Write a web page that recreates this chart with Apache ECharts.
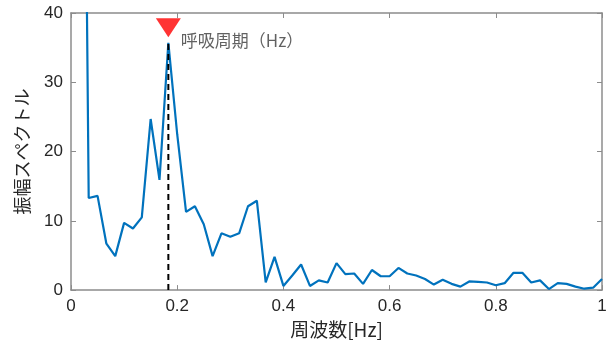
<!DOCTYPE html>
<html>
<head>
<meta charset="utf-8">
<script src="https://cdn.jsdelivr.net/npm/echarts@6/dist/echarts.min.js"></script>
<style>
  html, body { margin: 0; padding: 0; background: #fff; }
  #chart { width: 611px; height: 344px; }
</style>
</head>
<body>
<div id="chart"></div>
<script>
// Amplitude spectrum, bins spaced 1/60 Hz (60 s window)
const FREQ_STEP = 1 / 60;
const amplitude = [
  400, 150, 13.3, 13.6, 6.7, 4.9, 9.7, 8.9, 10.5, 24.7,
  15.9, 35.7, 22.5, 11.3, 12.1, 9.5, 4.9, 8.2, 7.7, 8.2,
  12.1, 12.9, 1.1, 4.8, 0.6, 2.1, 3.7, 0.6, 1.4, 1.1,
  3.9, 2.3, 2.4, 0.9, 2.9, 2.0, 2.0, 3.2, 2.4, 2.1,
  1.6, 0.8, 1.5, 0.9, 0.5, 1.25, 1.2, 1.1, 0.7, 1.0,
  2.5, 2.5, 1.1, 1.4, 0.15, 1.0, 0.9, 0.5, 0.2, 0.35,
  1.6
];
const freqs = amplitude.map((_, i) => i * FREQ_STEP);

// Respiratory peak bin
const breathPeakIndex = 11;
const peakLabel = '呼吸周期（Hz）';

const xTicks = ['0', '0.2', '0.4', '0.6', '0.8', '1'];
const yTicks = ['0', '10', '20', '30', '40'];
const xTitle = '周波数[Hz]';
const yTitle = '振幅スペクトル';

const spectrum = freqs.map((f, i) => [f, amplitude[i]]);
const peakPoint = [freqs[breathPeakIndex], amplitude[breathPeakIndex]];

const boxColor = '#8c8c8c';
const textColor = '#262626';
const latin = '"Liberation Sans", Arial, sans-serif';
const cjk = '"Noto Sans CJK JP", "Liberation Sans", sans-serif';

function axisCommon(extra) {
  return Object.assign({
    type: 'value',
    splitLine: { show: false },
    axisLine: { show: true, onZero: false, lineStyle: { color: boxColor, width: 1.5 } },
    axisTick: { show: true, inside: true, length: 5, lineStyle: { color: boxColor, width: 1 } },
  }, extra);
}

const chart = echarts.init(document.getElementById('chart'), null, { renderer: 'canvas' });
chart.setOption({
  animation: false,
  backgroundColor: '#fff',
  grid: { left: 71, right: 9, top: 13, bottom: 53, containLabel: false },
  xAxis: [
    axisCommon({
      min: 0, max: 1, interval: 0.2, position: 'bottom',
      axisLabel: {
        color: textColor, fontSize: 17, fontFamily: latin, margin: 8,
        formatter: (v) => xTicks[Math.round(v / 0.2)]
      },
      name: xTitle, nameLocation: 'middle', nameGap: 26,
      nameTextStyle: { color: textColor, fontSize: 19, fontFamily: cjk }
    }),
    axisCommon({
      min: 0, max: 1, interval: 0.2, position: 'top',
      axisLabel: { show: false }
    })
  ],
  yAxis: [
    axisCommon({
      min: 0, max: 40, interval: 10, position: 'left',
      axisLabel: {
        color: textColor, fontSize: 17, fontFamily: latin, margin: 8,
        formatter: (v) => yTicks[Math.round(v / 10)]
      },
      name: yTitle, nameLocation: 'middle', nameGap: 40,
      nameTextStyle: { color: textColor, fontSize: 18, fontFamily: cjk }
    }),
    axisCommon({
      min: 0, max: 40, interval: 10, position: 'right',
      axisLabel: { show: false }
    })
  ],
  series: [
    {
      type: 'line',
      data: spectrum,
      showSymbol: false,
      clip: true,
      lineStyle: { color: '#0072BD', width: 2.2 },
      z: 3
    },
    {
      // dashed drop line from the respiratory peak to the axis
      type: 'line',
      data: [[peakPoint[0], 0], peakPoint],
      showSymbol: false,
      lineStyle: { color: '#000', width: 2, type: [6, 4] },
      z: 4
    },
    {
      // red marker above the peak with its caption
      type: 'scatter',
      data: [peakPoint],
      symbol: 'triangle',
      symbolRotate: 180,
      symbolSize: [25, 19],
      symbolOffset: [0, -15],
      itemStyle: { color: '#ff0000' },
      label: {
        show: true,
        position: 'right',
        formatter: peakLabel,
        offset: [0, 13],
        distance: 0,
        color: '#3a3a3a',
        fontSize: 17,
        fontFamily: cjk
      },
      z: 5
    }
  ]
});
</script>
</body>
</html>
